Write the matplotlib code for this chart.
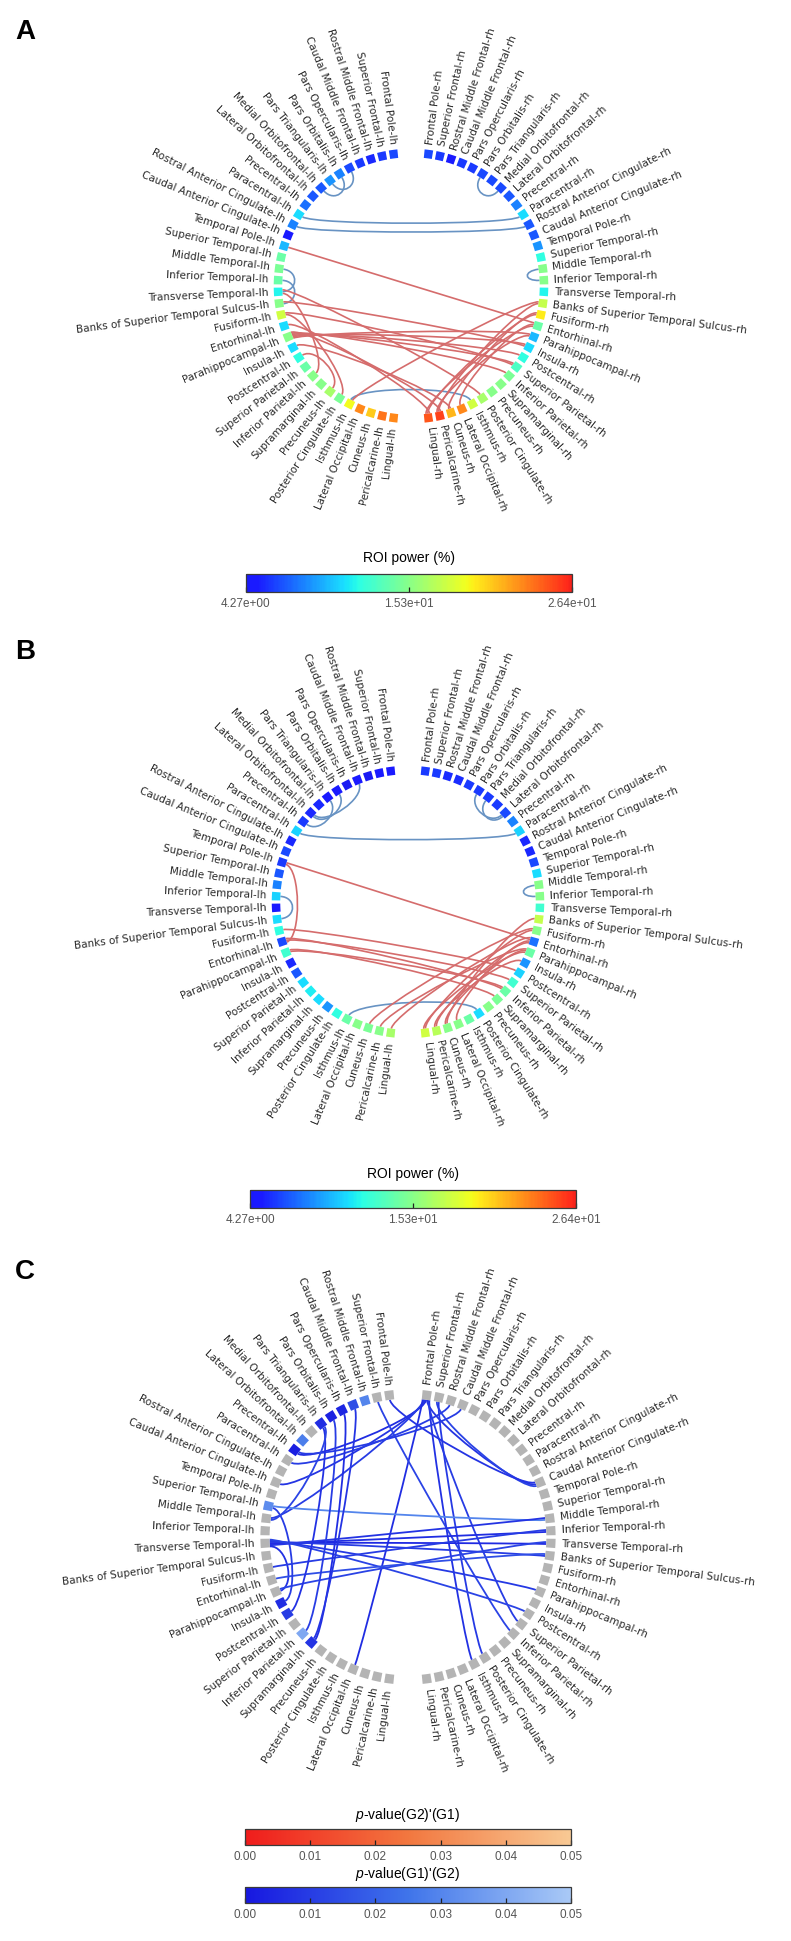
import numpy as np
import matplotlib
matplotlib.use("Agg")
import matplotlib.pyplot as plt
from matplotlib.path import Path
from matplotlib.patches import PathPatch
from matplotlib.colors import LinearSegmentedColormap, Normalize

plt.rcParams['mathtext.fontset'] = 'custom'
plt.rcParams['mathtext.rm'] = 'Liberation Sans'
plt.rcParams['mathtext.it'] = 'Liberation Sans:italic'

W, H = 791, 1941

# ---------------- data ----------------
regions = ['Frontal Pole', 'Superior Frontal', 'Rostral Middle Frontal', 'Caudal Middle Frontal',
           'Pars Opercularis', 'Pars Orbitalis', 'Pars Triangularis', 'Medial Orbitofrontal',
           'Lateral Orbitofrontal', 'Precentral', 'Paracentral', 'Rostral Anterior Cingulate',
           'Caudal Anterior Cingulate', 'Temporal Pole', 'Superior Temporal', 'Middle Temporal',
           'Inferior Temporal', 'Transverse Temporal', 'Banks of Superior Temporal Sulcus',
           'Fusiform', 'Entorhinal', 'Parahippocampal', 'Insula', 'Postcentral',
           'Superior Parietal', 'Inferior Parietal', 'Supramarginal', 'Precuneus',
           'Posterior Cingulate', 'Isthmus', 'Lateral Occipital', 'Cuneus', 'Pericalcarine', 'Lingual']
lh_labels = [r + '-lh' for r in regions]
rh_labels = [r + '-rh' for r in regions]

# ROI power (%) per node
power_range = (4.27, 26.4)
power_a_lh = [6.5, 6.0, 5.4, 6.0, 6.5, 8.2, 8.7, 6.9, 6.9, 7.6, 10.9, 8.2, 4.9, 9.8, 14.2, 14.9, 14.2,
              11.6, 15.3, 18.0, 10.9, 15.3, 10.9, 12.0, 14.2, 15.3, 15.3, 16.4, 14.9, 19.3, 23.1, 20.9, 23.7, 23.1]
power_a_rh = [6.5, 6.0, 4.9, 6.0, 6.0, 6.5, 6.5, 6.5, 6.9, 8.2, 10.9, 6.9, 6.9, 8.7, 12.0, 15.3, 15.3,
              11.6, 17.5, 19.8, 14.2, 9.8, 10.9, 12.0, 13.1, 14.9, 15.3, 15.3, 16.4, 18.0, 23.1, 21.5, 25.3, 24.6]
power_b_lh = [4.9, 4.7, 4.3, 4.7, 4.3, 4.9, 4.7, 5.4, 5.4, 6.0, 10.5, 5.4, 6.5, 6.0, 6.9, 8.2, 10.5,
              4.9, 10.9, 12.0, 6.5, 12.7, 5.4, 6.9, 10.9, 11.4, 10.9, 8.7, 12.0, 14.2, 15.3, 14.9, 15.3, 16.4]
power_b_rh = [6.0, 6.0, 5.6, 5.6, 6.0, 6.0, 6.0, 6.0, 6.5, 8.2, 10.5, 5.4, 5.4, 6.5, 10.9, 15.3, 15.3,
              12.7, 17.5, 15.3, 7.6, 14.2, 8.7, 10.5, 12.7, 14.2, 14.9, 15.3, 10.9, 14.2, 15.3, 15.3, 17.1, 18.0]

# significant nodes in C, p-value (G1)>(G2); others not significant
pval_nodes_c = {'Rostral Middle Frontal-lh': 0.030, 'Caudal Middle Frontal-lh': 0.015,
                'Pars Opercularis-lh': 0.004, 'Pars Orbitalis-lh': 0.003, 'Pars Triangularis-lh': 0.006,
                'Lateral Orbitofrontal-lh': 0.028, 'Precentral-lh': 0.002, 'Superior Temporal-lh': 0.032,
                'Insula-lh': 0.006, 'Postcentral-lh': 0.010, 'Inferior Parietal-lh': 0.040,
                'Supramarginal-lh': 0.008}

blue_a = [('Pars Opercularis-lh', 'Pars Triangularis-lh'), ('Pars Orbitalis-lh', 'Medial Orbitofrontal-lh'),
          ('Paracentral-lh', 'Paracentral-rh'),
          ('Rostral Anterior Cingulate-lh', 'Rostral Anterior Cingulate-rh'),
          ('Pars Orbitalis-rh', 'Medial Orbitofrontal-rh'), ('Middle Temporal-rh', 'Inferior Temporal-rh'),
          ('Middle Temporal-lh', 'Transverse Temporal-lh'),
          ('Inferior Temporal-lh', 'Banks of Superior Temporal Sulcus-lh'), ('Isthmus-lh', 'Isthmus-rh')]
red_a = [('Temporal Pole-lh', 'Entorhinal-rh'), ('Transverse Temporal-lh', 'Posterior Cingulate-rh'),
         ('Banks of Superior Temporal Sulcus-lh', 'Insula-rh'), ('Fusiform-lh', 'Superior Parietal-rh'),
         ('Parahippocampal-lh', 'Parahippocampal-rh'), ('Parahippocampal-lh', 'Insula-rh'),
         ('Parahippocampal-lh', 'Postcentral-rh'), ('Parahippocampal-lh', 'Superior Parietal-rh'),
         ('Parahippocampal-lh', 'Inferior Parietal-rh'), ('Parahippocampal-lh', 'Pericalcarine-rh'),
         ('Entorhinal-lh', 'Lingual-rh'), ('Insula-lh', 'Cuneus-rh'),
         ('Transverse Temporal-lh', 'Inferior Parietal-lh'), ('Fusiform-lh', 'Posterior Cingulate-lh'),
         ('Postcentral-lh', 'Precuneus-lh'), ('Lingual-rh', 'Fusiform-rh'), ('Lingual-rh', 'Entorhinal-rh'),
         ('Pericalcarine-rh', 'Banks of Superior Temporal Sulcus-rh'),
         ('Pericalcarine-rh', 'Parahippocampal-rh'), ('Cuneus-rh', 'Fusiform-rh'),
         ('Lateral Occipital-rh', 'Entorhinal-rh'), ('Banks of Superior Temporal Sulcus-rh', 'Isthmus-lh')]

blue_b = [('Caudal Middle Frontal-lh', 'Lateral Orbitofrontal-lh'),
          ('Pars Orbitalis-lh', 'Lateral Orbitofrontal-lh'), ('Pars Triangularis-lh', 'Precentral-lh'),
          ('Pars Orbitalis-rh', 'Lateral Orbitofrontal-rh'), ('Pars Triangularis-rh', 'Lateral Orbitofrontal-rh'),
          ('Paracentral-lh', 'Paracentral-rh'),
          ('Inferior Temporal-lh', 'Banks of Superior Temporal Sulcus-lh'),
          ('Middle Temporal-rh', 'Inferior Temporal-rh'), ('Isthmus-lh', 'Posterior Cingulate-rh')]
red_b = [('Temporal Pole-lh', 'Entorhinal-rh'), ('Temporal Pole-lh', 'Entorhinal-lh'),
         ('Entorhinal-lh', 'Superior Parietal-rh'), ('Entorhinal-lh', 'Inferior Parietal-rh'),
         ('Parahippocampal-lh', 'Inferior Parietal-rh'), ('Parahippocampal-lh', 'Supramarginal-rh'),
         ('Fusiform-lh', 'Postcentral-rh'), ('Lingual-rh', 'Fusiform-rh'), ('Lingual-rh', 'Parahippocampal-rh'),
         ('Pericalcarine-rh', 'Entorhinal-rh'), ('Pericalcarine-rh', 'Insula-rh'),
         ('Cuneus-rh', 'Parahippocampal-rh'), ('Cuneus-rh', 'Banks of Superior Temporal Sulcus-rh'),
         ('Lateral Occipital-rh', 'Entorhinal-rh'), ('Lingual-lh', 'Entorhinal-rh'),
         ('Pericalcarine-lh', 'Parahippocampal-rh'), ('Cuneus-lh', 'Fusiform-rh')]

edges_c = [('Frontal Pole-rh', 'Precentral-lh'), ('Frontal Pole-rh', 'Caudal Anterior Cingulate-lh'),
           ('Frontal Pole-rh', 'Middle Temporal-lh'), ('Frontal Pole-rh', 'Lateral Occipital-lh'),
           ('Frontal Pole-rh', 'Caudal Anterior Cingulate-rh'), ('Frontal Pole-rh', 'Isthmus-rh'),
           ('Frontal Pole-rh', 'Superior Parietal-rh'), ('Superior Frontal-rh', 'Caudal Anterior Cingulate-rh'),
           ('Superior Frontal-rh', 'Posterior Cingulate-rh'), ('Rostral Middle Frontal-rh', 'Paracentral-lh'),
           ('Frontal Pole-lh', 'Caudal Anterior Cingulate-rh'), ('Superior Frontal-lh', 'Inferior Parietal-rh'),
           ('Precentral-lh', 'Caudal Middle Frontal-rh'), ('Superior Temporal-lh', 'Middle Temporal-rh'),
           ('Transverse Temporal-lh', 'Inferior Temporal-rh'), ('Transverse Temporal-lh', 'Transverse Temporal-rh'),
           ('Transverse Temporal-lh', 'Middle Temporal-rh'),
           ('Transverse Temporal-lh', 'Banks of Superior Temporal Sulcus-rh'),
           ('Transverse Temporal-lh', 'Parahippocampal-rh'), ('Transverse Temporal-lh', 'Postcentral-rh'),
           ('Transverse Temporal-lh', 'Parahippocampal-lh'), ('Fusiform-lh', 'Inferior Temporal-rh'),
           ('Parahippocampal-lh', 'Transverse Temporal-rh'),
           ('Entorhinal-lh', 'Banks of Superior Temporal Sulcus-rh'),
           ('Supramarginal-lh', 'Pars Opercularis-lh'), ('Supramarginal-lh', 'Caudal Middle Frontal-lh'),
           ('Inferior Parietal-lh', 'Pars Orbitalis-lh'), ('Postcentral-lh', 'Pars Triangularis-lh'),
           ('Insula-lh', 'Superior Temporal-lh'), ('Middle Temporal-lh', 'Pars Triangularis-lh')]
pval_edges_c = [0.006, 0.008, 0.010, 0.006, 0.008, 0.007, 0.010, 0.012, 0.009, 0.010,
                0.008, 0.012, 0.010, 0.030, 0.006, 0.005, 0.008, 0.010, 0.009, 0.012,
                0.007, 0.010, 0.012, 0.015, 0.006, 0.008, 0.010, 0.007, 0.010, 0.012]

# ---------------- colours ----------------
jet = plt.cm.jet(np.linspace(0.1, 0.9, 256))
jet[:, :3] = 0.9 * jet[:, :3] + 0.1
cmap_power = LinearSegmentedColormap.from_list('jet_trunc', jet)
cmap_red = LinearSegmentedColormap.from_list('p_red', ['#f01c1c', '#f2773f', '#f8c994'])
cmap_blue = LinearSegmentedColormap.from_list('p_blue', ['#1717e0', '#3f74ea', '#a9c9f6'])
norm_power = Normalize(*power_range)
norm_p = Normalize(0, 0.05)
RED_EDGE = '#d56c6c'
BLUE_EDGE = '#6893c3'
GRAY_NODE = '#b4b4b4'

R_IN, R_CTRL = 9.0, 7.9


def node_theta(name):
    region, hemi = name.rsplit('-', 1)
    k = regions.index(region)
    deg = 97.5 + 5 * k if hemi == 'lh' else 82.5 - 5 * k
    return np.deg2rad(deg)


def spread_offsets(edge_list):
    uses = {}
    for i, (a, b) in enumerate(edge_list):
        uses.setdefault(a, []).append((node_theta(b), i, 0))
        uses.setdefault(b, []).append((node_theta(a), i, 1))
    offs = np.zeros((len(edge_list), 2))
    for n, lst in uses.items():
        lst.sort()
        m = len(lst)
        if m > 1:
            half = min(1.4, 0.4 * (m - 1))
            for (t, i, end), d in zip(lst, np.linspace(-half, half, m)):
                offs[i, end] = np.deg2rad(d)
    return offs


def circle_panel(cx, cy, r_node, node_colors, edge_list, edge_colors, lw=1.2):
    R = r_node * 10 / 9.3
    ax = fig.add_axes([(cx - R) / W, (H - cy - R) / H, 2 * R / W, 2 * R / H], projection='polar')
    ax.set_axis_off()
    names = lh_labels + rh_labels
    thetas = np.array([node_theta(n) for n in names])

    offs = spread_offsets(edge_list)
    for (a, b), c, (o0, o1) in zip(edge_list, edge_colors, offs):
        t0, t1 = node_theta(a) + o0, node_theta(b) + o1
        verts = [(t0, R_IN), (t0, R_CTRL), (t1, R_CTRL), (t1, R_IN)]
        codes = [Path.MOVETO, Path.CURVE4, Path.CURVE4, Path.CURVE4]
        ax.add_patch(PathPatch(Path(verts, codes), fill=False, edgecolor=c, lw=lw, zorder=1))

    ax.bar(thetas, 0.6, width=np.deg2rad(3.6), bottom=9.0, color=node_colors,
           edgecolor='none', align='center', zorder=2)

    for n, t in zip(names, thetas):
        deg = np.rad2deg(t)
        if 90 < deg < 270:
            rot, ha = deg - 180, 'right'
        else:
            rot, ha = deg, 'left'
        ax.text(t, 10.0, n, rotation=rot, rotation_mode='anchor', ha=ha, va='center',
                fontsize=7.5, color='#2a2a2a', family='DejaVu Sans')
    ax.set_ylim(0, 10)
    return ax


def colorbar(x0, x1, y0, y1, cmap, norm, ticks, fmt, title, title_y):
    cax = fig.add_axes([x0 / W, 1 - y1 / H, (x1 - x0) / W, (y1 - y0) / H])
    sm = plt.cm.ScalarMappable(norm=norm, cmap=cmap)
    cb = fig.colorbar(sm, cax=cax, orientation='horizontal', ticks=ticks, format=fmt)
    cb.outline.set_edgecolor('#3a3a3a')
    cb.outline.set_linewidth(0.9)
    cax.tick_params(direction='in', length=3.5, width=0.9, color='#222222',
                    labelsize=8.5, labelcolor='#555555', pad=4)
    for lab in cax.get_xticklabels():
        lab.set_family('Liberation Sans')
    fig.text((x0 + x1) / 2 / W, 1 - title_y / H, title, ha='center', va='center',
             fontsize=10, family='Liberation Sans')


fig = plt.figure(figsize=(W / 100, H / 100), dpi=100)

# panel A
cols_a = cmap_power(norm_power(power_a_lh + power_a_rh))
circle_panel(411, 286, 133, cols_a, blue_a + red_a,
             [BLUE_EDGE] * len(blue_a) + [RED_EDGE] * len(red_a))
colorbar(246, 572, 574, 592, cmap_power, norm_power, np.linspace(*power_range, 3), '%.2e',
         'ROI power (%)', 558)

# panel B
cols_b = cmap_power(norm_power(power_b_lh + power_b_rh))
circle_panel(408, 902, 132, cols_b, blue_b + red_b,
             [BLUE_EDGE] * len(blue_b) + [RED_EDGE] * len(red_b))
colorbar(250, 576, 1190, 1208, cmap_power, norm_power, np.linspace(*power_range, 3), '%.2e',
         'ROI power (%)', 1174)

# panel C
cols_c = [cmap_blue(norm_p(pval_nodes_c[n])) if n in pval_nodes_c else GRAY_NODE
          for n in lh_labels + rh_labels]
circle_panel(408, 1537, 143, cols_c, edges_c, [cmap_blue(norm_p(p)) for p in pval_edges_c], lw=1.3)
p_ticks = [0.0, 0.01, 0.02, 0.03, 0.04, 0.05]
colorbar(245, 571, 1829, 1845, cmap_red, norm_p, p_ticks, '%.2f', "$p$-value(G2)'(G1)", 1815)
colorbar(245, 571, 1887, 1903, cmap_blue, norm_p, p_ticks, '%.2f', "$p$-value(G1)'(G2)", 1874)

for letter, y in [('A', 32), ('B', 652), ('C', 1272)]:
    fig.text(25 / W, 1 - y / H, letter, fontsize=20, fontweight='bold', ha='center', va='center',
             family='Liberation Sans')

fig.savefig('out.png', dpi=100, facecolor='white')
